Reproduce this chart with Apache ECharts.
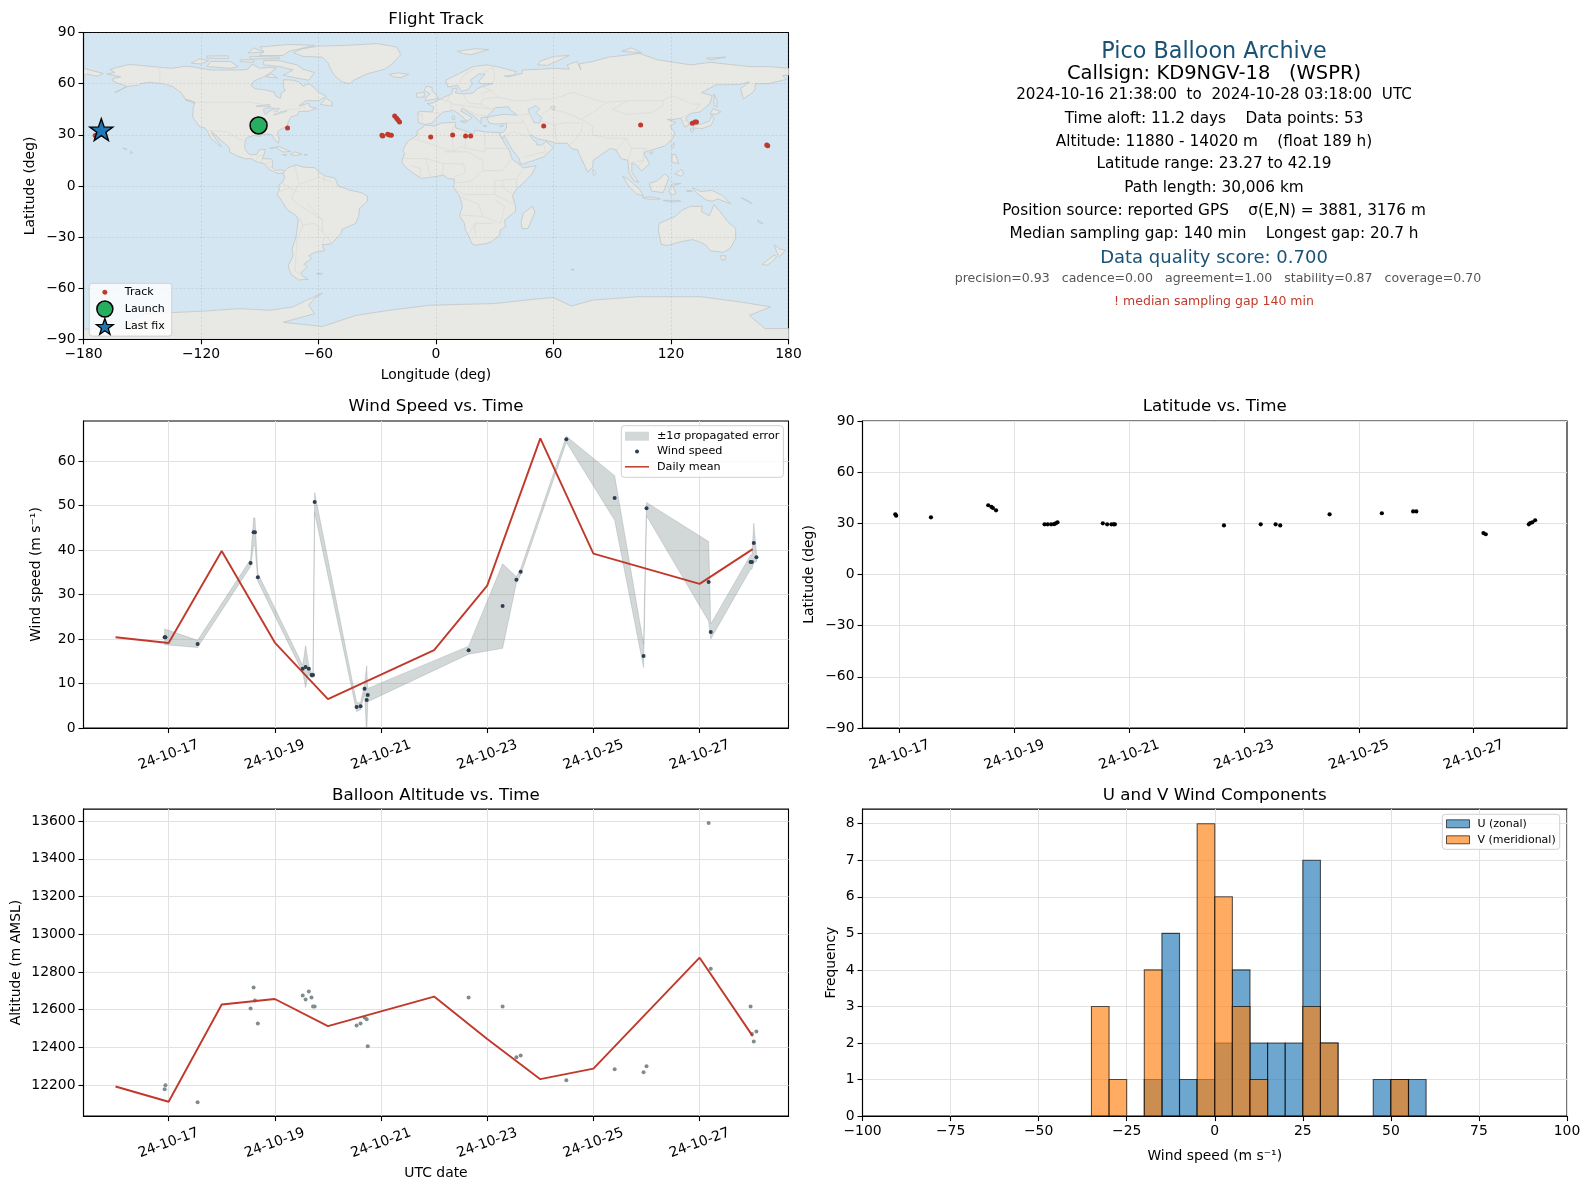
<!DOCTYPE html>
<html><head><meta charset="utf-8">
<style>html,body{margin:0;padding:0;background:#fff}#c{width:1590px;height:1189px}</style>
<script src="https://cdn.jsdelivr.net/npm/echarts@6/dist/echarts.min.js"></script>
</head><body><div id="c"></div>
<script>
// ---------- values ----------
// Sample times as day-of-October 2024 (UTC, fractional)
const SAMPLE_DAYS = [16.925,16.94,17.546,18.544,18.60,18.626,18.68,19.525,19.58,19.64,19.69,19.72,19.75,20.54,20.615,20.69,20.73,20.75,22.65,23.29,23.55,23.63,24.49,25.40,25.945,26.0,27.17,27.21,27.96,27.985,28.02,28.07];
const WIND_SPEED = [20.4,20.4,18.9,37.1,44.0,44.0,33.9,13.3,13.7,13.3,11.9,11.9,50.8,4.7,4.9,8.8,6.3,7.4,17.5,27.4,33.3,35.1,64.9,51.7,16.2,49.4,32.8,21.6,37.3,37.3,41.6,38.4];
const WIND_UPPER = [22.2,22.2,19.7,37.9,47.2,47.2,34.8,14.1,18.5,14.0,12.5,12.5,52.9,5.7,5.7,9.8,14.0,8.9,18.4,36.9,34.0,35.8,65.6,56.7,18.8,50.7,41.9,23.4,38.9,38.9,46.0,39.4];
const WIND_LOWER = [18.7,18.7,18.1,36.3,41.0,41.0,33.0,12.5,9.1,12.6,11.3,11.3,48.4,3.7,4.1,7.8,-1.5,5.9,16.6,17.9,32.6,34.4,64.2,46.7,13.6,47.7,24.0,20.0,35.7,35.7,37.2,37.4];
const LATITUDE = [35.3,34.5,33.5,40.6,39.6,39.0,37.6,29.4,29.4,29.4,29.5,30.0,30.6,30.0,29.4,29.4,29.4,29.4,28.8,29.4,29.4,28.8,35.3,35.9,37.0,37.0,24.3,23.6,29.4,30.2,30.6,31.8];
const ALTITUDE = [12179,12200,12110,12607,12718,12649,12527,12675,12654,12697,12665,12617,12617,12517,12527,12559,12549,12406,12665,12617,12348,12358,12226,12285,12269,12300,13590,12818,12617,12471,12432,12485];
const MEAN_DAYS = [16,17,18,19,20,22,23,24,25,27,28];
const MEAN_WIND = [20.4,19.1,39.8,19.2,6.5,17.5,32.0,65.1,39.2,32.4,40.2];
const MEAN_ALT = [12193,12112,12628,12657,12513,12670,12445,12232,12288,12876,12460];
const TRACK_LON = [-75.8,-27.6,-27.2,-24.7,-23.8,-22.8,-21.1,-20.1,-19.4,-18.6,-2.7,8.5,15.1,17.7,55,104.5,130.9,132.3,133,168.9,169.4,-174];
const TRACK_LAT = [34.0,29.7,29.3,30.3,29.9,29.7,41.0,39.7,38.7,37.5,28.7,29.9,29.3,29.3,35.2,35.7,36.7,37.5,37.5,24.0,23.5,29.5];
const LAUNCH = [-90.6,35.5];
const LAST_FIX = [-170.9,33.0];
const BIN_LEFT = [-100,-95,-90,-85,-80,-75,-70,-65,-60,-55,-50,-45,-40,-35,-30,-25,-20,-15,-10,-5,0,5,10,15,20,25,30,35,40,45,50,55,60,65,70,75,80,85,90,95];
const U_COUNTS = [0,0,0,0,0,0,0,0,0,0,0,0,0,0,0,0,1,5,1,1,2,4,2,2,2,7,2,0,0,1,1,1,0,0,0,0,0,0,0,0];
const V_COUNTS = [0,0,0,0,0,0,0,0,0,0,0,0,0,3,1,0,4,0,0,8,6,3,1,0,0,3,2,0,0,0,1,0,0,0,0,0,0,0,0,0];
const DAY_TICKS = [17,19,21,23,25,27];
const INFO_LINES = ["Pico Balloon Archive","Callsign: KD9NGV-18   (WSPR)","2024-10-16 21:38:00  to  2024-10-28 03:18:00  UTC","Time aloft: 11.2 days    Data points: 53","Altitude: 11880 - 14020 m    (float 189 h)","Latitude range: 23.27 to 42.19","Path length: 30,006 km","Position source: reported GPS    σ(E,N) = 3881, 3176 m","Median sampling gap: 140 min    Longest gap: 20.7 h","Data quality score: 0.700","precision=0.93   cadence=0.00   agreement=1.00   stability=0.87   coverage=0.70","! median sampling gap 140 min"];
const PANEL_TITLES = ["Flight Track","Wind Speed vs. Time","Latitude vs. Time","Balloon Altitude vs. Time","U and V Wind Components"];

// Approximate land outlines, [lon,lat]
const LAND = [
 // North America
 [[-168,65.6],[-164,66.5],[-166.5,68.3],[-163,69.5],[-156.5,71.3],[-148,70.4],[-141,69.6],[-135,69],[-128,70.2],[-124,69.8],[-115,68],[-108,68],[-100,68],[-96,68.5],[-94,71.5],[-90,69],[-85,69.5],[-81.5,69],[-85,66],[-88,64],[-93,61.5],[-94.5,59],[-92.5,57],[-88,56.5],[-82.5,55],[-82,52.8],[-79.5,51.3],[-79,54.5],[-77,56],[-78,58.5],[-78,62.3],[-73,62],[-70,61],[-68,58.5],[-65,60],[-62,57.5],[-60,55],[-56,52.5],[-60,50],[-66.5,50],[-70,47],[-65,48.5],[-64.5,46.5],[-61,45.5],[-65.5,43.7],[-70,43.7],[-70.5,41.7],[-74,40.5],[-75.5,37.5],[-76,35],[-79,33.5],[-81,31.5],[-80,27],[-80.5,25.2],[-82,26.5],[-82.7,28],[-84,30],[-86,30.4],[-89.5,30],[-89.5,29],[-93,29.7],[-97,28],[-97.5,25],[-97.7,22],[-96,19],[-94,18.2],[-91.5,18.5],[-90.5,21],[-87,21.5],[-88,18],[-88.7,16],[-84,15.8],[-83.3,14.8],[-83.7,11],[-82,9],[-79.5,9.5],[-77.3,8.6],[-78,7.5],[-80.5,7.3],[-83,8.3],[-85.5,10],[-87.5,13],[-91.5,14],[-94.5,16.2],[-97,15.8],[-101.5,17.5],[-105.5,20],[-105.3,22],[-108,25],[-110,27],[-112.7,30],[-114.7,31.7],[-112.5,27.5],[-110,24],[-109.8,23],[-112,25],[-115,28],[-116.5,31.5],[-118,34],[-120.6,34.6],[-122.5,37.5],[-124.2,40.3],[-124,46],[-123,49],[-128,51],[-130,54.5],[-134,58],[-139,59.8],[-146,60.8],[-151,60],[-152,59],[-157,58.5],[-164,54.8],[-160,57],[-158,58.5],[-162,60],[-165,61.5],[-165,63],[-161,64],[-168,65.6]],
 // Greenland
 [[-73,78.2],[-68,80.5],[-60,82],[-45,82.5],[-30,83.5],[-20,81.5],[-18,77],[-22,72],[-26,68.5],[-35,65.8],[-42,62],[-44,60],[-48,61],[-52,65],[-54,69],[-55,72],[-58,75.5],[-68,76],[-73,78.2]],
 // South America
 [[-77.3,8.6],[-75.5,10.7],[-71.5,12.3],[-68,11],[-62,10.7],[-60,8.5],[-57,6],[-51.5,4.5],[-50,0],[-44,-2.5],[-38,-4],[-35,-6],[-35,-9],[-39,-13],[-39.5,-18],[-41,-22],[-48,-25.5],[-48.5,-28],[-53.5,-34],[-58,-34.5],[-57,-38],[-62,-39],[-65,-41],[-63.5,-42.5],[-67.5,-46],[-65.7,-47.5],[-69,-51],[-68,-53],[-65.3,-54.8],[-70,-55.2],[-74,-52],[-75.5,-47],[-73,-41],[-73.5,-37],[-71.5,-30],[-70.3,-20],[-71.5,-17.3],[-76,-14],[-79.5,-7.5],[-81.3,-5],[-80,-2.5],[-80.3,0.5],[-78.5,2],[-77.3,5],[-78,7.5],[-77.3,8.6]],
 // Africa
 [[-5.9,35.8],[-1,35.1],[3,36.9],[10,37.3],[10,34],[15,32.3],[19,30.3],[20,32.7],[25,31.7],[32.3,31.2],[32.6,29.9],[35.5,24],[37.3,21],[39,15.5],[43.2,12],[44.5,10.5],[51.2,11.9],[49,7],[45,2],[41,-2],[39,-6],[40.5,-11],[40.7,-15],[35,-20],[35.5,-24],[32.7,-26],[32.5,-29],[28,-33],[25,-34],[20,-34.8],[18.3,-34],[17,-30],[15,-26],[14.5,-22],[12,-17.5],[13.5,-12],[12,-6],[9,-1],[9.5,4],[6,4.3],[4,6.3],[-3,5],[-7.5,4.4],[-13,8.5],[-16.8,12.5],[-17.4,14.7],[-16,19],[-17,21],[-14.5,26],[-10,29.5],[-9.5,32.5],[-6.5,34.5],[-5.9,35.8]],
 // Eurasia
 [[-9,37],[-9.3,43],[-8,43.7],[-2,43.4],[-1,46],[-4.5,48.3],[-1.5,48.7],[1.5,50.5],[4,52],[8,54],[8.5,57],[10.5,57.5],[10,54.5],[14,54],[19,54.5],[21,57],[24,58.5],[29,60],[23,60],[21.5,61],[25,65.5],[22,65.8],[17.5,62],[18.5,60],[16.5,56.5],[13,55.5],[11,59],[6,58],[5,62],[12,66],[19,70],[26,71],[31,70],[41,67],[40,65],[35,64.5],[37,64],[44,66],[44,68],[54,68.5],[60,69],[68,68.5],[67,71],[72,73],[74,68],[73,71.5],[80,73],[88,75.5],[104,77.7],[113,74],[130,71],[140,72.5],[160,70],[170,70],[180,69],[180,65],[177,64.7],[179,62.5],[170,60],[163,60],[163,57],[162,55],[157,51],[155.5,57],[160,61],[155,59.5],[143,59.3],[135.5,54.7],[141,53],[140,48.5],[135,43.5],[130,42.5],[127.5,39.8],[129.5,36],[127,34.5],[126,37],[125,39.7],[121.5,39],[118,39],[122.5,37.3],[119.5,35],[122,31],[121,28],[117,23.5],[110,21],[106,19.5],[109,13],[105,8.7],[102,12.5],[100,13.5],[100,8],[103.5,2],[101,3],[98.5,8],[98,15],[94.5,16],[92,21],[89,22],[86.5,20],[80.3,15],[80,11],[77.5,8],[73,19],[72.5,21],[69,22],[67,25],[61,25],[57,26.5],[52,27.5],[48.5,30],[48,29.5],[50,26.5],[51.5,25.5],[51.5,24],[54,24],[56.3,26],[59.8,22.5],[55,17],[45,13],[43.2,12.7],[42.5,16],[39,21],[34.8,29.5],[34.2,27.8],[32.6,29.9],[32.3,31.2],[34.3,31.3],[36,34],[36,36.7],[30,36.2],[27,37],[26,40],[29,41],[35,42],[41.5,41.5],[38,44.5],[37,46.5],[33,46],[30.5,46],[28,43],[26,40.5],[23,40],[23,36.5],[19.5,41],[13.5,45.5],[12.5,44],[18.5,40],[16,38],[12,42],[9,44.3],[3.5,43.3],[0,39.5],[-2,36.8],[-5.5,36],[-9,37]],
 // Chukotka past the date line
 [[-180,69],[-175,67.5],[-170,66],[-173,64.3],[-178,65.5],[-180,65]],
 // Australia, Tasmania, New Zealand, New Guinea
 [[114,-22],[122,-18],[126,-14],[130,-12],[136,-12],[135.5,-15],[139.5,-17.5],[142,-11],[145,-15],[149,-21],[153,-25],[153,-31],[150,-37],[146.5,-39],[140,-38],[138,-35],[135,-33],[131,-31.5],[124,-33],[118,-35],[115,-34.3],[113.5,-26],[114,-22]],
 [[145,-41],[148,-41],[147.5,-43.5],[146,-43.5]],
 [[172.7,-34.5],[175.5,-37],[178.5,-37.7],[175.3,-41.6],[174,-39]],
 [[172.7,-40.6],[174,-41.7],[171,-45],[169,-46.6],[166.5,-46],[171,-42]],
 [[131,-1],[135,-3.3],[141,-2.6],[146,-5.5],[150.5,-10.5],[144,-7.7],[141,-9],[138,-8.3],[133,-4]],
 // SE Asia islands
 [[109,1.5],[113,3],[116.8,7],[119,5],[117.7,1],[116,-4],[110,-3]],
 [[95.3,5.7],[98,4],[104,-2],[106,-6],[102,-4.5],[98,0.5]],
 [[105.5,-6.7],[111,-6.5],[114.5,-7.7],[108,-7.8]],
 [[119,-3],[120.5,1],[125,1.5],[121,0],[122.5,-4.5],[120,-5.5]],
 [[120.5,18.5],[122.3,18.3],[124,13],[120.5,14]],
 [[122,7],[125.5,9.7],[126.5,7],[125,5.7]],
 [[116,-8.5],[119,-8.5],[124,-8.5],[125,-9],[120,-9.5]],
 [[128,-2.5],[131,-3],[128,-3.5]],
 [[120.2,23],[121.5,25.3],[121.8,24],[120.9,22]],
 [[109,19.5],[111,20],[110,18.3]],
 [[80,9.7],[82,7.5],[80.5,6]],
 // Japan, Sakhalin
 [[131,34],[136,33.7],[140.5,35.5],[142,39.5],[141,41.3],[139.5,38],[136,36.5],[132,35.5]],
 [[140,42],[141.5,45.4],[145.5,43.5],[143,42]],
 [[130,33.5],[131.8,33],[130.8,31.2],[130,32]],
 [[142,54],[143.5,50],[143.5,46.5],[142,47],[142,52]],
 // Madagascar
 [[49.3,-12],[50.5,-15.5],[47,-25],[44,-25],[43.5,-21],[44.5,-16]],
 // Europe / Arctic islands
 [[-24,65.5],[-19,66.3],[-14,65.5],[-18,63.5],[-22,64]],
 [[-5.5,50],[1.5,51.3],[0,53.5],[-2,56],[-2,57.7],[-5,58.6],[-6,56],[-3,54],[-5,52]],
 [[-10,52],[-6,52.2],[-6,55],[-10,54.3]],
 [[11,79],[20,80.5],[27,80],[18,77],[14,77.5]],
 [[52,71],[57,70.7],[68,76.5],[60,76],[53,73]],
 [[95,79],[105,78],[100,81]],
 [[138,75],[148,75.5],[140,74]],
 [[8.3,39],[9.7,39.2],[9.4,41],[8.3,41]],
 [[12.5,38],[15.5,38.2],[15,36.7]],
 [[24,35.3],[26,35.2],[24.5,34.9]],
 [[33,34.8],[34.5,35.6],[32.5,35]],
 // Canadian Arctic
 [[-80,73.5],[-71,71],[-68,68.5],[-62,66.5],[-65,62],[-72,63.5],[-78,65],[-73,68],[-80,70],[-88,71],[-88,73.5]],
 [[-117,70],[-105,69],[-101,70],[-105,73],[-115,73]],
 [[-125,72],[-120,71.5],[-116,73.5],[-121,74.5]],
 [[-90,76.5],[-78,76.5],[-75,79],[-62,82.5],[-75,83],[-90,81.5],[-88,79]],
 [[-95,74.5],[-80,74.7],[-80,75.6],[-95,76]],
 [[-96,78],[-88,78.5],[-93,81]],
 [[-117,75],[-106,74.8],[-106,76.3],[-117,76.2]],
 [[-100,73],[-93,72.5],[-93,74],[-100,74]],
 [[-87,64],[-81,63.3],[-84,65.8]],
 [[-59,47.8],[-53,46.8],[-53,49],[-56,51.5]],
 [[-128,50.5],[-123.5,48.5],[-125,50]],
 // Caribbean, Hawaii
 [[-85,22],[-80,23],[-74.2,20.2],[-78,19.9],[-82,22.5]],
 [[-74.3,18.5],[-72,20],[-68.5,18.7],[-71.5,17.7]],
 [[-78.3,18.4],[-76.3,18.2],[-77.5,17.8]],
 [[-67.2,18.5],[-65.6,18.3],[-67,17.9]],
 [[-156,20.2],[-154.9,19.5],[-155.8,19]],
 [[-160,22.2],[-157.8,21.6],[-158.2,21.3]],
 // South Pacific and sub-Antarctic islands
 [[164,-20],[167,-22],[165,-21.7]],
 [[156,-7],[160,-9],[161.5,-10.5],[158,-8.5]],
 [[-61,-51.3],[-58,-51.3],[-59,-52.2]],
 [[69,-49],[70.5,-49],[69.5,-49.7]],
 // Antarctica
 [[-180,-84],[-158,-84],[-153,-77],[-148,-75],[-119,-73.5],[-100,-72],[-85,-73],[-73,-71],[-66,-67],[-58,-63],[-62,-66],[-65,-70],[-62,-75],[-78,-80],[-58,-82.5],[-41,-76],[-24,-73],[-3,-70],[30,-69],[50,-66.5],[60,-65.5],[69,-70.5],[80,-67],[103,-65],[135,-65],[155,-68],[171,-71],[160,-76],[168,-83.7],[180,-83.7],[180,-90],[-180,-90]]
];
const WATER = [
 [[47,45],[51,47],[53,45],[51,43],[54,40],[53,37],[50,37],[49,40],[47.5,43]],
 [[-92,46.7],[-85,47.8],[-84.7,46.5],[-88,46.8]],
 [[-88,45],[-85.5,46],[-84,45.5],[-80,45.5],[-81.5,43.2],[-83,45],[-86.3,43],[-87,41.7],[-87.8,43]],
 [[-83,41.6],[-79,42.8],[-76,44],[-79.5,43.4],[-81,42.2]],
 [[58.5,46.5],[61,46.5],[60,44]]
];
const BORDERS = [
 [[-123,49],[-95,49],[-89,48],[-83,46],[-82.5,42],[-79,43],[-75,45],[-71,45],[-67.5,47],[-67,45]],[[-141,69.6],[-141,60],[-135,59]],
 [[-117,32.5],[-106.5,31.7],[-103,29],[-97.2,25.9]],[[-92,14.5],[-91,17.5],[-89,18]],[[-88.5,16],[-89.5,14],[-87.5,13]],[[-83.3,14.8],[-87,13]],[[-83.7,11],[-85.5,11]],[[-83,8.3],[-82.5,9.5]],
 [[-72,12],[-70,1],[-74,-7],[-70,-11],[-58,-20],[-58,-27],[-55,-31],[-53,-34]],[[-70,-18],[-68,-23],[-71,-32],[-72,-50],[-69,-52]],[[-60,8],[-60,5],[-52,2]],[[-78.5,1.5],[-70,-4]],[[-58,-20],[-66,-10]],[[-80,-3.5],[-75,-1]],[[-68,-23],[-62,-22],[-58,-27]],[[-58,-34],[-57,-30]],[[-70,1],[-60,5]],[[-57,6],[-57,2]],
 [[-13,28],[-9,27],[9,20],[12,23],[25,20],[25,32]],[[25,22],[37,22]],[[4,20],[16,20],[24,15],[24,9],[34,9],[38,15]],[[-17,16],[-5,16],[4,13],[14,13],[15,8],[9,5]],[[9,-1],[14,-5],[30,-5],[40,-11]],[[12,-17],[24,-18],[33,-22]],[[30,-5],[30,3],[41,4],[44,9]],[[17,-28],[20,-22],[29,-22]],[[-9,27],[-9,32]],[[9,20],[8,32],[10,37]],[[15,32],[15,23]],[[4,13],[3,6]],[[-5,16],[-3,5]],[[-13,12],[-8,10],[-8,4.5]],[[24,9],[18,3],[14,2],[9,2]],[[41,4],[41,-2]],[[34,4],[34,-1],[39,-5]],[[24,-18],[22,-11],[12,-6]],[[33,-22],[35,-12],[30,-8]],[[20,-22],[20,-28]],
 [[28,56],[32,52],[40,50],[47,50],[50,51],[60,51],[70,55],[80,51],[87,49],[98,50],[106,50],[116,50],[120,53],[127,50],[131,48],[135,48],[131,43]],[[74,39],[80,35],[80,30],[88,28],[97,28],[100,22],[106,22],[108,21.5]],[[68,24],[71,27],[74,32],[75,37]],[[87,49],[80,43],[74,39]],[[98,50],[90,45],[97,42],[110,43],[116,47],[116,50]],[[44,39],[46,35],[48,30]],[[61,36],[61,30],[62,25]],[[35,29],[39,32],[47,29]],[[52,19],[45,17]],[[52,19],[56,20],[55,24]],[[54,42],[58,45],[66,43],[70,41],[74,39]],[[54,38],[61,36],[66,37],[74,37]],[[36,37],[44,37],[44,39]],[[42,41.5],[47,42],[49,41]],[[92,21],[97,28]],[[100,22],[98,15]],[[100,14],[106,15],[106,22]],[[103,11],[106,15]],[[125,40],[130,42.5]],[[126,38],[128.5,38.5]],
 [[-2,43],[3,42.5]],[[2,51],[8,49],[7.5,44]],[[6,50],[7,54]],[[14,54],[15,51],[17,48.5],[23,48],[28,45]],[[24,58],[28,56],[23,54]],[[12,60],[14,65],[20,69]],[[24,66],[29,70]],[[29,60],[30,65],[29,70]],[[-7,37],[-7,42],[-9,42]],[[8,48],[15,47],[22,46],[28,45]],[[14,46],[20,42],[26,41]],[[32,52],[24,51],[23,48]],[[28,45],[30,46]]
];

// ---------- chart ----------
const FONT = '"DejaVu Sans"';
const TICK_FONT = 13.9;
const LEFT_X = 83.5, RIGHT_X = 862.5, W_L = 705, W_R = 704.5, H = 307;
const ROW_Y = [32.5, 421, 809.1];
const GRID_LINE = {show:true, lineStyle:{color:'#e2e2e2', width:1}};
const axisCommon = {
  axisLine:{show:true, onZero:false, lineStyle:{color:'#000', width:1.1}},
  axisTick:{show:true, length:5, lineStyle:{color:'#000', width:1.1}},
  splitLine:GRID_LINE, minorTick:{show:false},
  nameLocation:'middle', nameMoveOverlap:false, nameTextStyle:{fontFamily:FONT, fontSize:13.9, color:'#000'}
};
const labelStyle = {fontFamily:FONT, fontSize:TICK_FONT, color:'#000', margin:8, hideOverlap:false, showMinLabel:true, showMaxLabel:true};
function valueAxis(gi, min, max, ticks, name, gap, extra){
  return Object.assign({}, axisCommon, {type:'value', gridIndex:gi, min, max,
    name, nameGap:gap,
    axisTick:Object.assign({}, axisCommon.axisTick, {customValues:ticks}),
    axisLabel:Object.assign({}, labelStyle, {customValues:ticks, formatter:v=>String(v).replace('-','\u2212')})}, extra||{});
}
function timeAxis(gi, d0, d1, name){
  return Object.assign({}, axisCommon, {type:'value', gridIndex:gi, min:d0, max:d1,
    name:name||'', nameGap:50,
    axisTick:Object.assign({}, axisCommon.axisTick, {customValues:DAY_TICKS}),
    axisLabel:Object.assign({}, labelStyle, {customValues:DAY_TICKS, rotate:20, align:'center', verticalAlign:'middle', margin:27,
      formatter:v=>'24-10-'+v})});
}
const grid = [
  {left:LEFT_X, top:ROW_Y[0], width:W_L, height:306.8, backgroundColor:'#d4e6f1'},
  {left:LEFT_X, top:ROW_Y[1], width:W_L, height:H},
  {left:RIGHT_X, top:ROW_Y[1], width:W_R, height:H},
  {left:LEFT_X, top:ROW_Y[2], width:W_L, height:H},
  {left:RIGHT_X, top:ROW_Y[2], width:W_R, height:H}
].map(g=>Object.assign({show:true, borderColor:'#000', borderWidth:1.1, backgroundColor:'transparent', containLabel:false},g));

const DEG_LON = [-180,-120,-60,0,60,120,180], DEG_LAT = [-90,-60,-30,0,30,60,90];
const MAP_GRID = {show:true, lineStyle:{color:'rgba(110,110,110,0.2)', width:0.8, type:[2,2]}};
const xAxis = [
  valueAxis(0,-180,180,DEG_LON,'Longitude (deg)',29,{z:3, splitLine:MAP_GRID}),
  timeAxis(1,15.397,28.674),
  timeAxis(2,16.354,28.625),
  timeAxis(3,15.397,28.674,'UTC date'),
  valueAxis(4,-100,100,[-100,-75,-50,-25,0,25,50,75,100],'Wind speed (m s\u207B\u00B9)',33)
];
const yAxis = [
  valueAxis(0,-90,90,DEG_LAT,'Latitude (deg)',46,{z:3, splitLine:MAP_GRID}),
  valueAxis(1,0,69,[0,10,20,30,40,50,60],'Wind speed (m s\u207B\u00B9)',40),
  valueAxis(2,-90,90,DEG_LAT,'Latitude (deg)',46),
  valueAxis(3,12036,13664,[12200,12400,12600,12800,13000,13200,13400,13600],'Altitude (m AMSL)',60),
  valueAxis(4,0,8.4,[0,1,2,3,4,5,6,7,8],'Frequency',24)
];
const pts = (xs, ys) => xs.map((x,i)=>[x, ys[i]]);
const STAR = 'path://M0,-10L2.35,-3.24L9.51,-3.09L3.8,1.24L5.88,8.09L0,4L-5.88,8.09L-3.8,1.24L-9.51,-3.09L-2.35,-3.24Z';
const polyRender = (arr, style, closed) => (params, api) => {
  const points = arr[params.dataIndex].map(p=>api.coord(p));
  return {type: closed?'polygon':'polyline', shape:{points}, style, silent:true};
};
const histRender = (fill) => (params, api) => {
  const a = api.coord([api.value(0), api.value(2)]);
  const b = api.coord([api.value(1), 0]);
  return {type:'rect', shape:{x:a[0], y:a[1], width:b[0]-a[0], height:b[1]-a[1]},
    style:{fill, stroke:'rgba(0,0,0,0.65)', lineWidth:1.1}};
};
const histData = counts => BIN_LEFT.map((l,i)=>[l, l+5, counts[i]]).filter(r=>r[2]>0);
const BLUE='rgba(31,119,180,0.65)', ORANGE='rgba(255,127,14,0.65)', BAND='rgba(127,140,141,0.35)', RED='#c0392b';

const series = [
  {type:'custom', name:'land', xAxisIndex:0, yAxisIndex:0, z:1, clip:true, silent:true,
    renderItem:polyRender(LAND,{fill:'#e8e8e4', stroke:'#c2c6c8', lineWidth:0.8},true), data:LAND.map(p=>p[0])},
  {type:'custom', name:'water', xAxisIndex:0, yAxisIndex:0, z:1.1, clip:true, silent:true,
    renderItem:polyRender(WATER,{fill:'#d4e6f1', stroke:'#c2c6c8', lineWidth:0.7},true), data:WATER.map(p=>p[0])},
  {type:'custom', name:'borders', xAxisIndex:0, yAxisIndex:0, z:1.2, clip:true, silent:true,
    renderItem:polyRender(BORDERS,{fill:'none', stroke:'#dadad6', lineWidth:0.7},false), data:BORDERS.map(p=>p[0])},
  {type:'scatter', name:'Track', xAxisIndex:0, yAxisIndex:0, z:5, symbolSize:5, itemStyle:{color:RED,opacity:1}, data:TRACK_LON.map((x,i)=>[x,TRACK_LAT[i]])},
  {type:'scatter', name:'Launch', xAxisIndex:0, yAxisIndex:0, z:6, symbolSize:17, itemStyle:{color:'#27ae60',borderColor:'#000',borderWidth:1.5,opacity:1}, data:[LAUNCH]},
  {type:'scatter', name:'Last fix', xAxisIndex:0, yAxisIndex:0, z:6, symbol:STAR, symbolKeepAspect:true, symbolSize:23, itemStyle:{color:'#1f77b4',borderColor:'#000',borderWidth:1.4,opacity:1}, data:[LAST_FIX]},

  {type:'custom', name:'\u00B11\u03C3 propagated error', xAxisIndex:1, yAxisIndex:1, z:1, clip:true, silent:true,
    itemStyle:{color:BAND},
    renderItem:(params,api)=>{
      if(params.dataIndex!==0) return null;
      const up=SAMPLE_DAYS.map((d,i)=>api.coord([d,WIND_UPPER[i]]));
      const lo=SAMPLE_DAYS.map((d,i)=>api.coord([d,WIND_LOWER[i]])).reverse();
      return {type:'polygon',shape:{points:up.concat(lo)},style:{fill:BAND,stroke:BAND,lineWidth:0.8}};
    },
    data:pts(SAMPLE_DAYS,WIND_SPEED)},
  {type:'scatter', name:'Wind speed', xAxisIndex:1, yAxisIndex:1, z:3, symbolSize:4, itemStyle:{color:'#2c3e50',opacity:1}, data:pts(SAMPLE_DAYS,WIND_SPEED)},
  {type:'line', name:'Daily mean', xAxisIndex:1, yAxisIndex:1, z:4, symbol:'none', lineStyle:{color:RED,width:1.9}, itemStyle:{color:RED}, data:pts(MEAN_DAYS,MEAN_WIND)},

  {type:'scatter', name:'Latitude', xAxisIndex:2, yAxisIndex:2, z:3, symbolSize:4.2, itemStyle:{color:'#000',opacity:1}, data:pts(SAMPLE_DAYS,LATITUDE)},

  {type:'scatter', name:'Altitude', xAxisIndex:3, yAxisIndex:3, z:3, symbolSize:4, itemStyle:{color:'#7f8c8d',opacity:1}, data:pts(SAMPLE_DAYS,ALTITUDE)},
  {type:'line', name:'Altitude daily mean', xAxisIndex:3, yAxisIndex:3, z:4, symbol:'none', lineStyle:{color:RED,width:1.9}, itemStyle:{color:RED}, data:pts(MEAN_DAYS,MEAN_ALT)},

  {type:'custom', name:'U (zonal)', xAxisIndex:4, yAxisIndex:4, z:2, encode:{x:[0,1],y:2}, itemStyle:{color:BLUE}, renderItem:histRender(BLUE), data:histData(U_COUNTS)},
  {type:'custom', name:'V (meridional)', xAxisIndex:4, yAxisIndex:4, z:3, encode:{x:[0,1],y:2}, itemStyle:{color:ORANGE}, renderItem:histRender(ORANGE), data:histData(V_COUNTS)}
];

const legendBox = {orient:'vertical', align:'left', selectedMode:false, z:10, backgroundColor:'rgba(255,255,255,0.8)', borderColor:'#d0d0d0', borderWidth:1, borderRadius:3};
const DOT_16 = 'path://M0,0L0,0M16,16L16,16M8,5.5a2.5,2.5 0 1 0 0.01,0z';
const DOT_24 = 'path://M0,0L0,0M24,9L24,9M12,2.5a2,2 0 1 0 0.01,0z';
const LINE_24 = 'path://M0,0L0,0M24,9L24,9M0,3.75H24V5.25H0Z';
const legend = [
  Object.assign({}, legendBox, {left:89.3, top:283.3, padding:[1,7,1,6.5], itemWidth:30, itemHeight:16, itemGap:0,
    textStyle:{fontFamily:FONT,fontSize:11,color:'#000'},
    data:[{name:'Track',icon:DOT_16,itemStyle:{color:RED,borderWidth:0}},
          {name:'Launch',icon:'circle',itemStyle:{color:'#27ae60',borderColor:'#000',borderWidth:1.5}},
          {name:'Last fix',icon:STAR,itemStyle:{color:'#1f77b4',borderColor:'#000',borderWidth:1.3}}]}),
  Object.assign({}, legendBox, {left:621.3, top:425.7, padding:[5,4,5,3.7], itemWidth:24, itemHeight:9, itemGap:4.3,
    textStyle:{fontFamily:FONT,fontSize:11.2,color:'#000',padding:[0,0,0,3]},
    data:[{name:'\u00B11\u03C3 propagated error',icon:'rect',itemStyle:{color:BAND,borderWidth:0}},
          {name:'Wind speed',icon:DOT_24,itemStyle:{color:'#2c3e50',borderWidth:0}},
          {name:'Daily mean',icon:LINE_24,itemStyle:{color:RED,borderWidth:0}}]}),
  Object.assign({}, legendBox, {left:1442.3, top:814.3, padding:[4,4,4,3.7], itemWidth:23, itemHeight:8, itemGap:5,
    textStyle:{fontFamily:FONT,fontSize:11,color:'#000',padding:[0,0,0,3]},
    data:[{name:'U (zonal)',icon:'rect',itemStyle:{color:BLUE,borderColor:'rgba(0,0,0,0.65)',borderWidth:1}},
          {name:'V (meridional)',icon:'rect',itemStyle:{color:ORANGE,borderColor:'rgba(0,0,0,0.65)',borderWidth:1}}]})
];

const txt = (x,y,text,size,fill) => ({type:'text', x, y, silent:true, z:20,
  style:{text, fontFamily:FONT, fontSize:size, fill, align:'center', verticalAlign:'middle'}});
const INFO_X = [1214,1214,1214,1214,1214,1214,1214,1214,1214,1214,1218,1214];
const INFO_Y = [52,74,95.3,118.6,142,164,187.6,211,234,258.6,279,302];
const INFO_SIZE = [22.3,19.5,15.15,15.3,15.3,15.3,15.3,15.3,15.3,18,12.55,12.5];
const INFO_FILL = ['#1a5276','#000','#000','#000','#000','#000','#000','#000','#000','#1a5276','#555','#c0392b'];
const TITLE_POS = [[436,19.3],[436,407],[1214.7,407],[436,796],[1214.7,796]];
const graphic = {elements:[
  ...PANEL_TITLES.map((t,i)=>txt(TITLE_POS[i][0],TITLE_POS[i][1],t,16.7,'#000')),
  ...INFO_LINES.map((t,i)=>txt(INFO_X[i],INFO_Y[i],t,INFO_SIZE[i],INFO_FILL[i]))
]};

const chart = echarts.init(document.getElementById('c'), null, {width:1590, height:1189, renderer:'canvas'});
chart.setOption({animation:false, backgroundColor:'#fff', tooltip:{show:false}, grid, xAxis, yAxis, series, legend, graphic});
</script>
</body></html>
